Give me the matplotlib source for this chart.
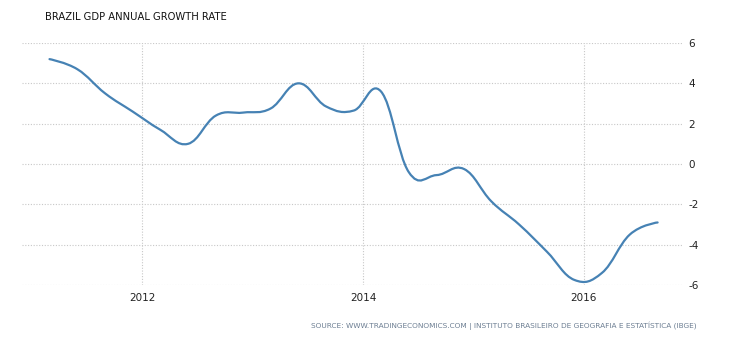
import matplotlib
matplotlib.use("Agg")
import matplotlib.pyplot as plt
import matplotlib.dates as mdates
from matplotlib.path import Path
from matplotlib.patches import PathPatch
import pandas as pd

plt.rcParams["axes.unicode_minus"] = False

# Quarterly data, 2011Q1 .. 2016Q3
dates = pd.date_range("2011-03-01", "2016-09-01", freq="3MS")
growth = [5.2, 4.7, 3.5, 2.6, 1.7, 1.0, 2.4, 2.55, 2.75, 4.0, 2.85, 2.65,
          3.6, -0.4, -0.55, -0.25, -1.85, -3.0, -4.35, -5.75, -5.4, -3.5, -2.9]
year_ticks = ["2012-01-01", "2014-01-01", "2016-01-01"]
year_labels = ["2012", "2014", "2016"]
y_ticks = [-6, -4, -2, 0, 2, 4, 6]


def spline_path(xs, ys, smoothing=1.5):
    # bezier control points, same idea as a highcharts spline
    denom = smoothing + 1
    n = len(xs)
    left = [(xs[i], ys[i]) for i in range(n)]
    right = [(xs[i], ys[i]) for i in range(n)]
    for i in range(1, n - 1):
        px, py = xs[i], ys[i]
        lx, ly = xs[i - 1], ys[i - 1]
        nx, ny = xs[i + 1], ys[i + 1]
        lcx = (smoothing * px + lx) / denom
        lcy = (smoothing * py + ly) / denom
        rcx = (smoothing * px + nx) / denom
        rcy = (smoothing * py + ny) / denom
        corr = (rcy - lcy) * (rcx - px) / (rcx - lcx) + py - rcy
        left[i] = (lcx, lcy + corr)
        right[i] = (rcx, rcy + corr)
    verts = [(xs[0], ys[0])]
    codes = [Path.MOVETO]
    for i in range(1, n):
        verts += [right[i - 1], left[i], (xs[i], ys[i])]
        codes += [Path.CURVE4] * 3
    return Path(verts, codes)


fig = plt.figure(figsize=(7.3, 3.4), dpi=100)
ax = fig.add_axes([22 / 730, 1 - 285 / 340, (683 - 22) / 730, (285 - 43) / 340])

xs = mdates.date2num(dates)
ax.add_patch(PathPatch(spline_path(list(xs), growth), facecolor="none",
                       edgecolor="#4682b4", lw=1.6, capstyle="round"))

ax.set_xlim(mdates.date2num(pd.Timestamp("2010-11-30")),
            mdates.date2num(pd.Timestamp("2016-11-24")))
ax.set_ylim(-6, 6)

ax.set_xticks(mdates.date2num(pd.to_datetime(year_ticks)))
ax.set_xticklabels(year_labels)
ax.set_yticks(y_ticks)
ax.yaxis.tick_right()
ax.tick_params(length=0, labelsize=7.5, labelcolor="#222222", pad=6)
ax.tick_params(axis="y", pad=4)

ax.grid(True, color="#c8c8c8", linestyle=(0, (1, 1.5)), linewidth=0.8)
ax.set_axisbelow(True)
for s in ax.spines.values():
    s.set_visible(False)

fig.text(45 / 730, 1 - 17 / 340, "BRAZIL GDP ANNUAL GROWTH RATE",
         fontsize=7.2, color="#111111", va="center", ha="left")
fig.text(697 / 730, 1 - 326 / 340,
         "SOURCE: WWW.TRADINGECONOMICS.COM | INSTITUTO BRASILEIRO DE GEOGRAFIA E ESTATÍSTICA (IBGE)",
         fontsize=5.3, color="#6d7f93", va="center", ha="right")

fig.savefig("out.png", dpi=100)
